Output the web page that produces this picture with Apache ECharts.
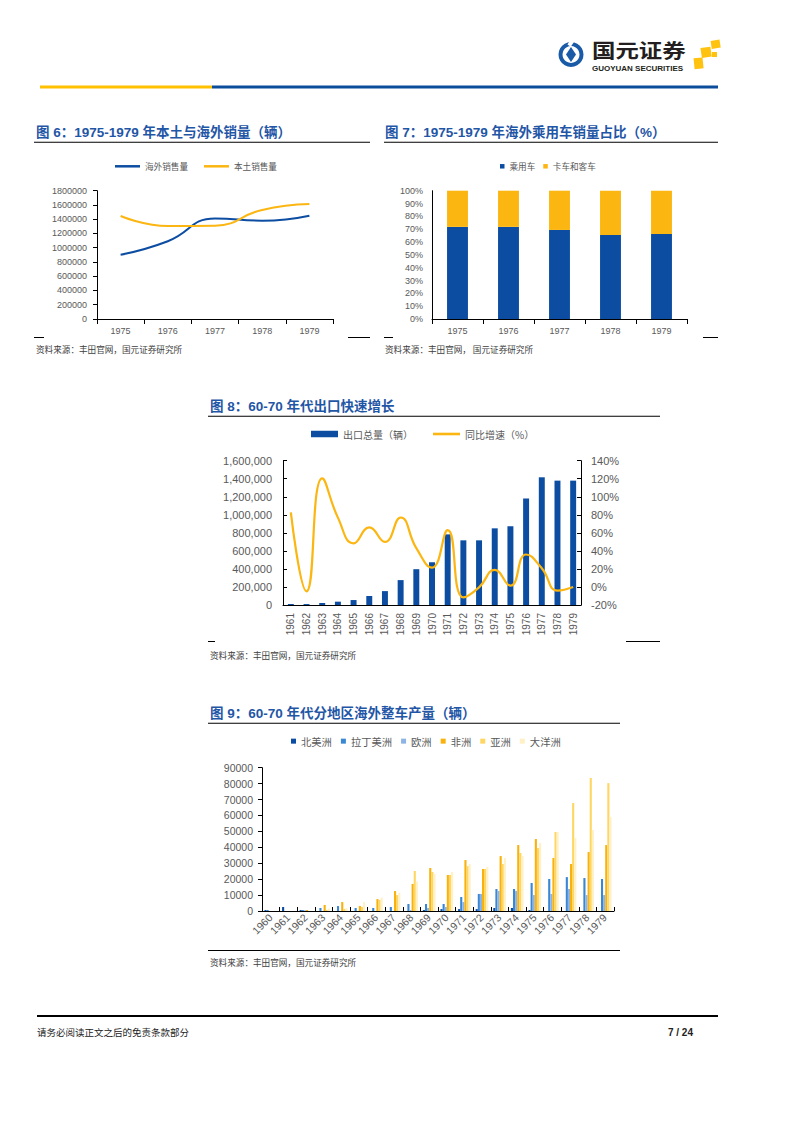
<!DOCTYPE html>
<html>
<head>
<meta charset="utf-8">
<script src="https://cdn.jsdelivr.net/npm/echarts@6/dist/echarts.min.js"></script>
<style>
html,body{margin:0;padding:0;background:#fff;}
#main{width:794px;height:1123px;}
</style>
</head>
<body>
<div id="main"></div>
<script>
// ---- Figure 6 ----
var years6 = ['1975', '1976', '1977', '1978', '1979'];
var overseasSales = [900000, 1090000, 1410000, 1380000, 1450000];
var domesticSales = [1445000, 1305000, 1310000, 1530000, 1613000];
var ticks6 = [0, 1800000, 200000];

// ---- Figure 7 ----
var years7 = ['1975', '1976', '1977', '1978', '1979'];
var passengerShare = [71.8, 71.8, 69.4, 65.5, 66.3];
var truckShare = [28.2, 28.2, 30.6, 34.5, 33.7];

// ---- Figure 8 ----
var years8 = ['1961','1962','1963','1964','1965','1966','1967','1968','1969','1970','1971','1972','1973','1974','1975','1976','1977','1978','1979'];
var exportTotal = [11000, 10500, 22000, 37000, 55000, 100000, 154000, 276000, 397000, 474000, 783000, 717000, 717000, 850000, 872000, 1181000, 1416000, 1379000, 1379000];
var exportGrowth = [82.8, -4.8, 120.5, 76.9, 48.4, 66, 50, 77, 43, 21.4, 63, -11.5, -0.4, 18.9, 1.5, 36, 20.7, -4, 0];

// ---- Figure 9 ----
var years9 = ['1960','1961','1962','1963','1964','1965','1966','1967','1968','1969','1970','1971','1972','1973','1974','1975','1976','1977','1978','1979'];
var northAmerica = [600, 2500, 600, 0, 0, 0, 0, 0, 0, 600, 1200, 1200, 1200, 1900, 1900, 600, 0, 0, 0, 0];
var latinAmerica = [600, 0, 600, 1900, 3100, 1900, 1900, 2500, 4400, 4400, 4400, 8800, 10700, 13800, 13800, 17600, 20100, 21300, 20700, 20100];
var europe = [0, 0, 400, 0, 0, 0, 0, 0, 600, 1900, 2500, 5600, 10700, 12600, 12600, 10000, 10700, 13800, 10000, 10000];
var africa = [0, 0, 600, 3800, 5600, 3100, 7500, 12500, 17000, 27000, 22600, 32000, 26400, 34500, 41400, 45200, 33300, 29500, 37000, 41400];
var asia = [0, 0, 0, 600, 1300, 2500, 6900, 10000, 25100, 24500, 22600, 28200, 26400, 29500, 36400, 39500, 49600, 67800, 83500, 80300];
var oceania = [0, 0, 0, 1500, 1700, 5600, 8400, 11500, 18400, 23200, 24500, 29500, 27600, 33300, 34500, 42700, 49600, 45800, 50800, 59000];

var BLUE = '#0C4DA2', YEL = '#FBB612';
var LAT = '"Liberation Sans", Arial, "Noto Sans CJK SC"';
var CJK = '"Noto Sans CJK SC", "Liberation Sans"';
var LBL = '#595959';

function txt(x, y, s, size, opts) {
  opts = opts || {};
  var el = {
    type: 'text', x: x, y: y, silent: true,
    style: {
      text: s, fontSize: size, fontFamily: opts.family || CJK,
      fontWeight: opts.bold ? 'bold' : 'normal',
      fill: opts.color || '#333', align: opts.align || 'left', verticalAlign: 'middle'
    }
  };
  if (opts.scaleX) { el.scaleX = opts.scaleX; }
  return el;
}
function rect(x, y, w, h, color) {
  return { type: 'rect', silent: true, shape: { x: x, y: y, width: w, height: h }, style: { fill: color } };
}

var graphics = [
  // header
  rect(40, 85.5, 172, 3, '#FFC000'),
  rect(212, 85.5, 506, 3, '#0B4C9B'),
  // logo
  { type: 'circle', silent: true, shape: { cx: 571, cy: 54.5, r: 12.5 }, style: { fill: '#1A5BA8' } },
  { type: 'circle', silent: true, shape: { cx: 571, cy: 54.5, r: 8.5 }, style: { fill: '#fff' } },
  { type: 'polygon', silent: true, shape: { points: [[571, 47], [576, 54.5], [571, 62], [566, 54.5]] }, style: { fill: '#1A5BA8' } },
  { type: 'rect', silent: true, shape: { x: 569, y: 40, width: 4, height: 6 }, style: { fill: '#fff' }, rotation: -0.6, originX: 571, originY: 43 },
  txt(592, 49, '国元证券', 19.5, { bold: true, color: '#231F20', scaleX: 1.2 }),
  txt(592, 68, 'GUOYUAN SECURITIES', 8, { bold: true, color: '#231F20', family: LAT }),
  { type: 'rect', silent: true, shape: { x: 711, y: 40, width: 9, height: 8 }, style: { fill: '#FFC20E' }, rotation: 0.15, originX: 715, originY: 44 },
  { type: 'rect', silent: true, shape: { x: 701, y: 47, width: 10, height: 10 }, style: { fill: '#FFC20E' }, rotation: 0.15, originX: 706, originY: 52 },
  { type: 'rect', silent: true, shape: { x: 694, y: 58, width: 9, height: 11 }, style: { fill: '#FFC20E' }, rotation: 0.1, originX: 698, originY: 63 },
  { type: 'rect', silent: true, shape: { x: 712, y: 52, width: 5, height: 5 }, style: { fill: '#FFC20E' } },

  // fig 6
  txt(36, 132, '图 6：1975-1979 年本土与海外销量（辆）', 13.5, { bold: true, color: '#1F56A6', family: LAT }),
  rect(34, 141.8, 336, 1, '#000'),
  rect(34, 337, 10, 1, '#000'),
  rect(348, 337, 22, 1, '#000'),
  txt(36, 349, '资料来源：丰田官网，国元证券研究所', 8.6, { color: '#404040' }),

  // fig 7
  txt(385, 132, '图 7：1975-1979 年海外乘用车销量占比（%）', 13.5, { bold: true, color: '#1F56A6', family: LAT }),
  rect(384, 141.8, 334, 1, '#000'),
  rect(384, 337, 9, 1, '#000'),
  rect(703, 337, 15, 1, '#000'),
  txt(385, 349, '资料来源：丰田官网， 国元证券研究所', 8.6, { color: '#404040' }),

  // fig 8
  txt(210, 406.5, '图 8：60-70 年代出口快速增长', 13.5, { bold: true, color: '#1F56A6', family: LAT }),
  rect(208, 415.8, 452, 1, '#000'),
  rect(208, 641, 7, 1, '#000'),
  rect(626, 641, 34, 1, '#000'),
  txt(210, 655, '资料来源：丰田官网，国元证券研究所', 8.6, { color: '#404040' }),

  // fig 9
  txt(210, 713, '图 9：60-70 年代分地区海外整车产量（辆）', 13.5, { bold: true, color: '#1F56A6', family: LAT }),
  rect(208, 722.8, 412, 1, '#000'),
  rect(208, 950, 412, 1, '#000'),
  txt(210, 962, '资料来源：丰田官网，国元证券研究所', 8.6, { color: '#404040' }),

  // footer
  rect(37, 1015, 681, 2, '#000'),
  txt(37, 1032, '请务必阅读正文之后的免责条款部分', 9.5, { color: '#222' }),
  txt(693, 1032, '7 / 24', 10, { bold: true, color: '#222', family: LAT, align: 'right' })
];

var plain = function (v) { return String(v); };
var blackLine = { show: true, lineStyle: { color: '#000', width: 1 } };
function catAxis(idx, data, extra) {
  return Object.assign({
    type: 'category', gridIndex: idx, data: data,
    axisLine: blackLine,
    axisLabel: { color: LBL, fontSize: 9, fontFamily: LAT, margin: 7 },
    axisTick: { show: true, inside: false, length: 5, lineStyle: { color: '#000' } },
    splitLine: { show: false }
  }, extra || {});
}
function valAxis(idx, min, max, interval, extra) {
  return Object.assign({
    type: 'value', gridIndex: idx, min: min, max: max, interval: interval,
    axisLine: blackLine,
    axisLabel: { color: LBL, fontSize: 9, fontFamily: LAT, margin: 10, formatter: plain },
    axisTick: { show: true, inside: false, length: 4, lineStyle: { color: '#000' } },
    splitLine: { show: false }
  }, extra || {});
}

var option = {
  animation: false,
  backgroundColor: '#fff',
  graphic: graphics,
  grid: [
    { left: 97, top: 190.7, width: 236, height: 128.3 },
    { left: 432, top: 190.7, width: 255, height: 128.3 },
    { left: 283, top: 460.7, width: 298, height: 144.3 },
    { left: 262, top: 767.7, width: 352, height: 143.3 }
  ],
  legend: [
    { data: ['海外销售量', '本土销售量'], left: 115, top: 162, padding: 0, icon: 'rect', itemWidth: 25, itemHeight: 2.5, itemGap: 16,
      textStyle: { fontSize: 8.6, color: LBL, fontFamily: CJK } },
    { data: ['乘用车', '卡车和客车'], left: 500, top: 162, padding: 0, icon: 'rect', itemWidth: 4.5, itemHeight: 4.5, itemGap: 8,
      textStyle: { fontSize: 8.6, color: LBL, fontFamily: CJK } },
    { data: [{ name: '出口总量（辆）', icon: 'rect' }, { name: '同比增速（%）', icon: 'path://M0,0L27,0L27,2.6L0,2.6Z' }],
      left: 311, top: 429, padding: 0, itemWidth: 27, itemHeight: 6.5, itemGap: 20,
      textStyle: { fontSize: 10, color: LBL, fontFamily: CJK } },
    { data: ['北美洲', '拉丁美洲', '欧洲', '非洲', '亚洲', '大洋洲'], left: 291, top: 736, padding: 0, icon: 'rect', itemWidth: 5, itemHeight: 5, itemGap: 9,
      textStyle: { fontSize: 10.3, color: LBL, fontFamily: CJK } }
  ],
  xAxis: [
    catAxis(0, years6),
    catAxis(1, years7),
    catAxis(2, years8, {
      axisTick: { show: false },
      axisLabel: { color: LBL, fontSize: 10, fontFamily: LAT, rotate: 90, margin: 8, interval: 0 }
    }),
    catAxis(3, years9, {
      axisTick: { show: true, inside: true, length: 4, lineStyle: { color: '#000' } },
      axisLabel: { color: LBL, fontSize: 10.5, fontFamily: LAT, rotate: 45, margin: 5, interval: 0 }
    })
  ],
  yAxis: [
    valAxis(0, ticks6[0], ticks6[1], ticks6[2]),
    valAxis(1, 0, 100, 10, {
      axisTick: { show: false },
      axisLabel: { color: LBL, fontSize: 9, fontFamily: LAT, margin: 9, formatter: '{value}%' }
    }),
    valAxis(2, 0, 1600000, 200000, {
      axisTick: { show: true, inside: true, length: 4, lineStyle: { color: '#000' } },
      axisLabel: { color: LBL, fontSize: 11, fontFamily: LAT, margin: 11,
        formatter: function (v) { return v.toLocaleString('en-US'); } }
    }),
    valAxis(2, -20, 140, 20, {
      position: 'right',
      axisTick: { show: true, inside: true, length: 4, lineStyle: { color: '#000' } },
      axisLabel: { color: LBL, fontSize: 11, fontFamily: LAT, margin: 10, formatter: '{value}%' }
    }),
    valAxis(3, 0, 90000, 10000, {
      axisLabel: { color: LBL, fontSize: 10.5, fontFamily: LAT, margin: 9, formatter: plain }
    })
  ],
  series: [
    { name: '海外销售量', type: 'line', xAxisIndex: 0, yAxisIndex: 0, data: overseasSales, smooth: 0.5, symbol: 'none',
      lineStyle: { color: BLUE, width: 2 }, itemStyle: { color: BLUE } },
    { name: '本土销售量', type: 'line', xAxisIndex: 0, yAxisIndex: 0, data: domesticSales, smooth: 0.5, symbol: 'none',
      lineStyle: { color: YEL, width: 2 }, itemStyle: { color: YEL } },

    { name: '乘用车', type: 'bar', xAxisIndex: 1, yAxisIndex: 1, stack: 's7', data: passengerShare, barWidth: '41%',
      itemStyle: { color: BLUE } },
    { name: '卡车和客车', type: 'bar', xAxisIndex: 1, yAxisIndex: 1, stack: 's7', data: truckShare, barWidth: '41%',
      itemStyle: { color: YEL } },

    { name: '出口总量（辆）', type: 'bar', xAxisIndex: 2, yAxisIndex: 2, data: exportTotal, barWidth: '38%',
      itemStyle: { color: BLUE } },
    { name: '同比增速（%）', type: 'line', xAxisIndex: 2, yAxisIndex: 3, data: exportGrowth, smooth: 0.5, symbol: 'none',
      lineStyle: { color: YEL, width: 2.2 }, itemStyle: { color: YEL }, z: 5 },

    { name: '北美洲', type: 'bar', xAxisIndex: 3, yAxisIndex: 4, data: northAmerica, barGap: '0%', barCategoryGap: '28%', itemStyle: { color: '#0B4DA2' } },
    { name: '拉丁美洲', type: 'bar', xAxisIndex: 3, yAxisIndex: 4, data: latinAmerica, barGap: '0%', barCategoryGap: '28%', itemStyle: { color: '#3A87D4' } },
    { name: '欧洲', type: 'bar', xAxisIndex: 3, yAxisIndex: 4, data: europe, barGap: '0%', barCategoryGap: '28%', itemStyle: { color: '#8DB4E2' } },
    { name: '非洲', type: 'bar', xAxisIndex: 3, yAxisIndex: 4, data: africa, barGap: '0%', barCategoryGap: '28%', itemStyle: { color: '#F9B10B' } },
    { name: '亚洲', type: 'bar', xAxisIndex: 3, yAxisIndex: 4, data: asia, barGap: '0%', barCategoryGap: '28%', itemStyle: { color: '#FFD662' } },
    { name: '大洋洲', type: 'bar', xAxisIndex: 3, yAxisIndex: 4, data: oceania, barGap: '0%', barCategoryGap: '28%', itemStyle: { color: '#FFF0C5' } }
  ]
};

var chart = echarts.init(document.getElementById('main'), null, { renderer: 'svg', width: 794, height: 1123 });
chart.setOption(option);
</script>
</body>
</html>
